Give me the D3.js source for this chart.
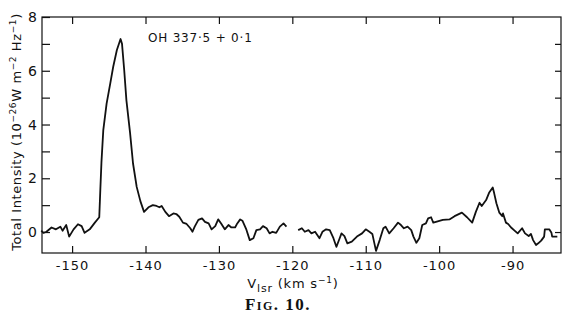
<!DOCTYPE html>
<html>
<head>
<meta charset="utf-8">
<script src="https://cdn.jsdelivr.net/npm/d3@7"></script>
<style>
  body { margin: 0; background: #fff; }
  svg text { font-family: "DejaVu Sans", sans-serif; fill: #111; }
</style>
</head>
<body>
<script>
// spectrum, gap near -120 km/s
const velocityA = [-154.2, -153.9, -153.5, -152.8, -152.2, -151.6, -151.3, -150.8, -150.4, -149.8,
  -149.2, -148.7, -148.3, -147.6, -146.9, -146.3, -146.15, -146.0, -145.75, -145.3,
  -144.8, -144.4, -143.9, -143.4, -143.2, -142.9, -142.6, -142.1, -141.7, -141.2,
  -140.7, -140.2, -139.6, -139.0, -138.5, -138.1, -137.8, -137.3, -136.8, -136.2,
  -135.8, -135.4, -134.9, -134.4, -133.9, -133.6, -133.3, -132.8, -132.3, -131.9,
  -131.4, -131.0, -130.5, -130.1, -129.7, -129.2, -128.7, -128.3, -127.8, -127.5,
  -127.1, -126.8, -126.3, -125.8, -125.3, -124.9, -124.4, -124.0, -123.5, -123.1,
  -122.7, -122.2, -121.7, -121.2, -120.8];
const intensityA = [0.05, -0.03, 0.01, 0.17, 0.1, 0.2, 0.05, 0.26, -0.17, 0.1,
  0.29, 0.22, -0.03, 0.1, 0.35, 0.55, 1.6, 2.6, 3.79, 4.78,
  5.53, 6.15, 6.77, 7.18, 7.0, 6.02, 4.9, 3.68, 2.55, 1.68,
  1.15, 0.75, 0.92, 1.0, 0.97, 0.92, 0.97, 0.75, 0.59, 0.69,
  0.67, 0.57, 0.35, 0.3, 0.14, 0.01, 0.2, 0.45, 0.51, 0.38,
  0.32, 0.1, 0.22, 0.47, 0.32, 0.1, 0.26, 0.17, 0.17, 0.32,
  0.47, 0.42, 0.12, -0.3, -0.23, 0.07, 0.1, 0.22, 0.14, -0.05,
  0.01, -0.03, 0.2, 0.32, 0.2];

const velocityB = [-119.2, -118.7, -118.3, -117.8, -117.4, -116.9, -116.3, -115.9, -115.4, -114.9,
  -114.4, -114.0, -113.6, -113.3, -112.9, -112.5, -111.9, -111.2, -110.5, -110.0,
  -109.5, -109.1, -108.6, -108.1, -107.6, -107.3, -106.8, -106.2, -105.6, -105.2,
  -104.8, -104.3, -103.8, -103.5, -103.1, -102.7, -102.3, -101.8, -101.5, -101.1,
  -100.8, -100.2, -99.5, -98.6, -97.9, -96.9, -96.2, -95.5, -95.0, -94.5,
  -94.2, -93.6, -93.2, -92.7, -92.5, -92.2, -91.8, -91.4, -91.3, -90.9,
  -90.6, -90.2, -89.8, -89.3, -88.7, -88.3, -87.8, -87.5, -87.2, -86.8,
  -86.5, -86.1, -85.7, -85.6, -85.0, -84.7, -84.6, -83.9];
const intensityB = [0.07, 0.14, 0.01, 0.07, -0.05, 0.01, -0.23, 0.01, 0.1, 0.07,
  -0.23, -0.55, -0.27, -0.05, -0.15, -0.42, -0.36, -0.17, -0.05, 0.1,
  0.01, -0.07, -0.7, -0.3, 0.14, 0.2, -0.05, 0.14, 0.35, 0.26,
  0.14, 0.2, 0.07, -0.17, -0.4, -0.23, 0.26, 0.32, 0.51, 0.55,
  0.35, 0.4, 0.45, 0.47, 0.59, 0.72, 0.55, 0.35, 0.75, 1.09,
  0.97, 1.19, 1.46, 1.66, 1.44, 1.07, 0.72, 0.59, 0.69, 0.35,
  0.3, 0.17, 0.07, -0.05, 0.14, -0.05, -0.15, -0.07, -0.3, -0.48,
  -0.42, -0.32, -0.17, 0.1, 0.1, -0.03, -0.17, -0.17];

const xTicks = [-150, -140, -130, -120, -110, -100, -90];
const yTicks = [0, 2, 4, 6, 8];
const yMinorTicks = [1, 3, 5, 7];
const yRightTicks = [0, 1, 2, 3, 4, 5, 6, 7];
const sourceName = "OH 337·5 + 0·1";

const width = 570, height = 328;
const plot = {left: 42, right: 561, top: 17, bottom: 253};

const x = d3.scaleLinear().domain([-154.1, -83.4]).range([plot.left, plot.right]);
const y = d3.scaleLinear().domain([-0.78, 8]).range([plot.bottom, plot.top]);

const svg = d3.select("body").append("svg")
  .attr("width", width)
  .attr("height", height);

// frame
svg.append("rect")
  .attr("x", plot.left).attr("y", plot.top)
  .attr("width", plot.right - plot.left).attr("height", plot.bottom - plot.top)
  .attr("fill", "none").attr("stroke", "#111").attr("stroke-width", 1.2);

let tickStyle = function(g){
  g.select(".domain").remove();
  g.selectAll(".tick line").attr("stroke", "#111").attr("stroke-width", 1.2);
  g.selectAll(".tick text").attr("font-size", 13).attr("fill", "#111");
};

svg.append("g")
  .attr("transform", `translate(0,${plot.bottom})`)
  .call(d3.axisBottom(x).tickValues(xTicks).tickSize(-7).tickPadding(8)
    .tickFormat(d => d))
  .call(tickStyle)
  .call(g => g.selectAll(".tick text").attr("letter-spacing", 1));

svg.append("g")
  .attr("transform", `translate(0,${plot.top})`)
  .call(d3.axisTop(x).tickValues(xTicks).tickSize(-7).tickFormat(""))
  .call(tickStyle);

svg.append("g")
  .attr("transform", `translate(${plot.left},0)`)
  .call(d3.axisLeft(y).tickValues(yTicks).tickSize(-8).tickPadding(5))
  .call(tickStyle)
  .call(g => g.selectAll(".tick text").attr("font-size", 14));

svg.append("g")
  .attr("transform", `translate(${plot.left},0)`)
  .call(d3.axisLeft(y).tickValues(yMinorTicks).tickSize(-8).tickFormat(""))
  .call(tickStyle);

svg.append("g")
  .attr("transform", `translate(${plot.right},0)`)
  .call(d3.axisRight(y).tickValues(yRightTicks).tickSize(-6).tickFormat(""))
  .call(tickStyle);

// spectrum
let line = d3.line()
  .x(d => x(d[0]))
  .y(d => y(d[1]));

let segments = [d3.zip(velocityA, intensityA), d3.zip(velocityB, intensityB)];

svg.selectAll("path.spectrum")
  .data(segments)
  .enter().append("path")
  .attr("class", "spectrum")
  .attr("d", line)
  .attr("fill", "none")
  .attr("stroke", "#111")
  .attr("stroke-width", 1.8)
  .attr("stroke-linejoin", "round");

svg.append("text")
  .attr("x", 148).attr("y", 42)
  .attr("font-size", 12).attr("letter-spacing", 0.8)
  .text(sourceName);

// y label
let ylab = svg.append("text")
  .attr("transform", "translate(21,132) rotate(-90)")
  .attr("text-anchor", "middle")
  .attr("font-size", 13).attr("letter-spacing", 0.6);
ylab.append("tspan").text("Total Intensity (10");
ylab.append("tspan").attr("dy", -5).attr("font-size", 9).text("−26");
ylab.append("tspan").attr("dy", 5).text("W m");
ylab.append("tspan").attr("dy", -5).attr("font-size", 9).text("−2");
ylab.append("tspan").attr("dy", 5).text(" Hz");
ylab.append("tspan").attr("dy", -5).attr("font-size", 9).text("−1");
ylab.append("tspan").attr("dy", 5).text(")");

// x label
let xlab = svg.append("text")
  .attr("x", 293).attr("y", 288)
  .attr("text-anchor", "middle")
  .attr("font-size", 13).attr("letter-spacing", 0.8);
xlab.append("tspan").text("V");
xlab.append("tspan").attr("dy", 4).attr("font-size", 11).text("lsr");
xlab.append("tspan").attr("dy", -4).text(" (km s");
xlab.append("tspan").attr("dy", -5).attr("font-size", 9).text("−1");
xlab.append("tspan").attr("dy", 5).text(")");

svg.append("text")
  .attr("x", 278).attr("y", 310)
  .attr("text-anchor", "middle")
  .attr("font-size", 17)
  .attr("font-weight", "bold")
  .attr("font-variant", "small-caps")
  .attr("letter-spacing", 1.5)
  .style("font-family", "'Liberation Serif', serif")
  .text("Fig. 10.");
</script>
</body>
</html>
